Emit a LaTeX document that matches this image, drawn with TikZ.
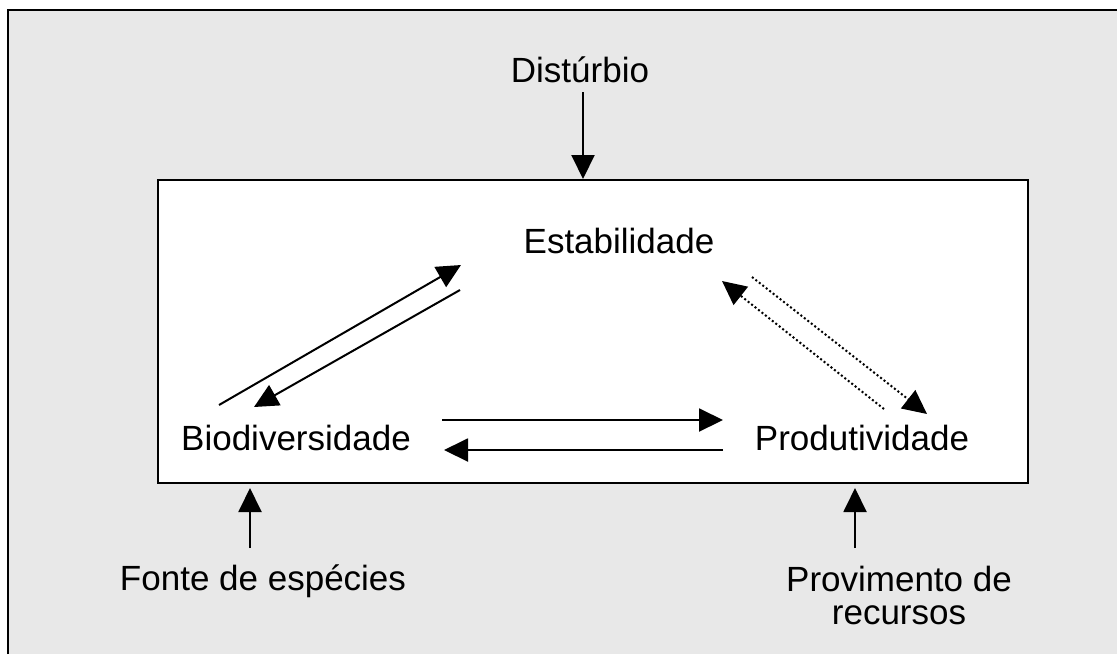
\documentclass[tikz,border=0pt]{standalone}
\usepackage{fontspec}
\setmainfont{Liberation Sans}
\usetikzlibrary{arrows.meta}

\tikzset{
  lbl/.style={anchor=base, inner sep=0pt, font=\fontsize{17.5}{16.5}\selectfont, align=center},
  arr/.style={line width=1pt, -{Triangle[length=12pt, width=11.5pt]}},
  dotarr/.style={arr, dash pattern=on 1pt off 1.2pt}
}

\begin{document}
\begin{tikzpicture}[x=0.5pt, y=-0.5pt]
  \useasboundingbox (0,0) rectangle (1117,654);
  \fill[black!9] (8,10) rectangle (1117,654);
  \draw[line width=1.2pt] (8,654) -- (8,10) -- (1117,10);
  \node[draw, line width=1pt, fill=white, minimum width=435pt, minimum height=151.5pt, inner sep=0pt] (box) at (593,331.5) {};
  \node[lbl] (dist) at (580,82) {Distúrbio};
  \node[lbl] (estab) at (619,253) {Estabilidade};
  \node[lbl] (biodiv) at (296,450) {Biodiversidade};
  \node[lbl] (produt) at (862,450) {Produtividade};
  \node[lbl] (fonte) at (263,590) {Fonte de espécies};
  \node[lbl, anchor=north] (prov) at (899,566) {Provimento de\\recursos};
  % Draw the outer inputs
  \coordinate (distDown) at (583,92);
  \coordinate (fonteUp) at (250,548);
  \coordinate (provUp) at (855,548);
  \draw[arr] (distDown) -- (distDown |- box.north);
  \draw[arr, shorten >=2pt] (fonteUp) -- (fonteUp |- box.south);
  \draw[arr, shorten >=2pt] (provUp) -- (provUp |- box.south);
  % Draw the relations inside the box
  \coordinate (b1) at (219,405);
  \coordinate (e1) at (461,265);
  \coordinate (e2) at (460,290);
  \coordinate (b2) at (254,407);
  \draw[arr] (b1) -- (e1);
  \draw[arr] (e2) -- (b2);
  \coordinate (b3) at (442,420);
  \coordinate (p3) at (723,420);
  \coordinate (p4) at (723,450);
  \coordinate (b4) at (444,450);
  \draw[arr] (b3) -- (p3);
  \draw[arr] (p4) -- (b4);
  \coordinate (e5) at (752,277);
  \coordinate (p5) at (927,414);
  \coordinate (p6) at (884,409);
  \coordinate (e6) at (722,281);
  \draw[dotarr] (e5) -- (p5);
  \draw[dotarr] (p6) -- (e6);
\end{tikzpicture}
\end{document}
